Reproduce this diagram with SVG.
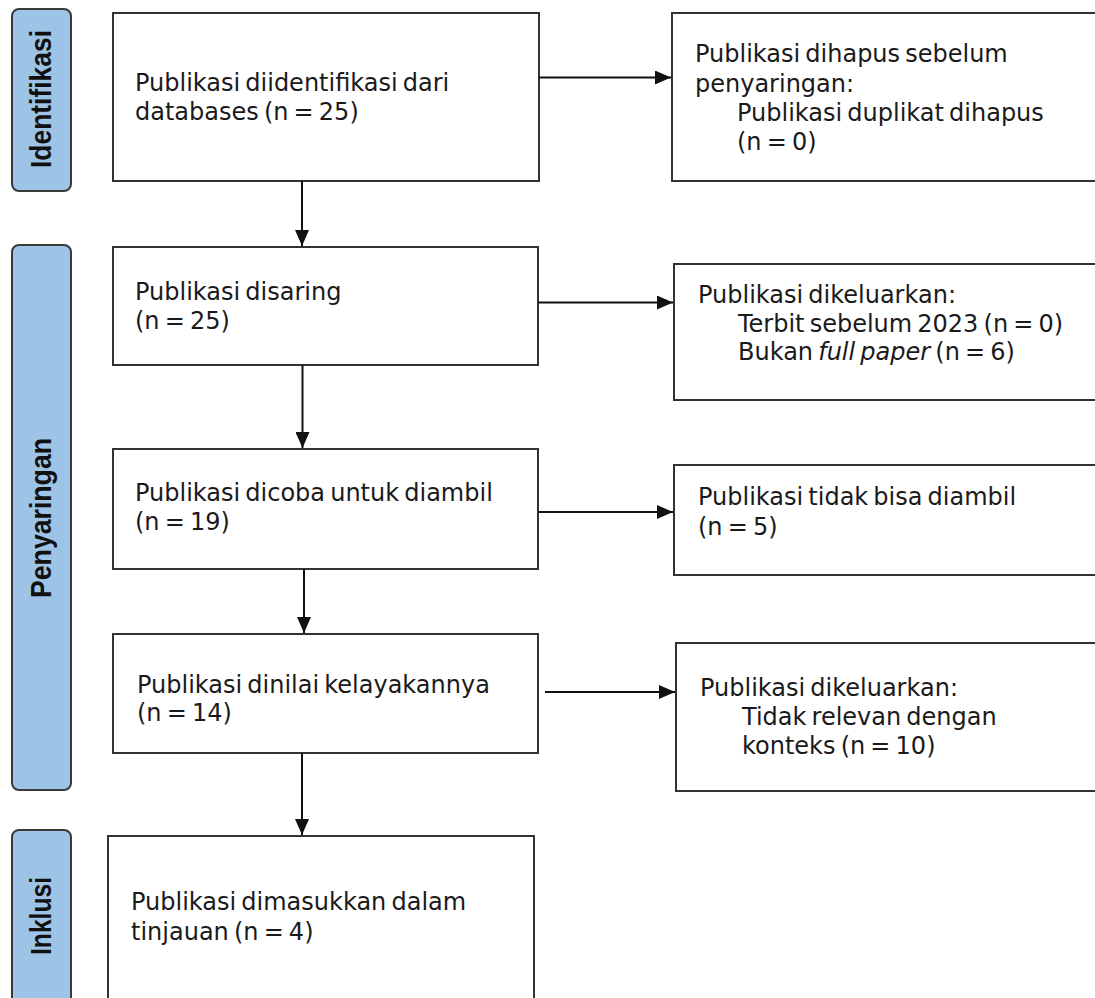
<svg xmlns="http://www.w3.org/2000/svg" width="1095" height="998" viewBox="0 0 1095 998">
<style>
.bar{fill:#9dc3e6;stroke:#3a3a3a;stroke-width:2}
.box{fill:#fff;stroke:#333;stroke-width:2}
.t{font-family:"DejaVu Sans",Verdana,sans-serif;font-size:24px;fill:#1a1a1a;word-spacing:-2.5px}
.lab{font-family:"Liberation Sans",Arial,sans-serif;font-weight:bold;font-size:29px;fill:#111}
.c{stroke:#111;stroke-width:2;fill:none;marker-end:url(#ah)}
</style>
<defs>
<marker id="ah" markerUnits="userSpaceOnUse" markerWidth="16" markerHeight="14" refX="16" refY="7" orient="auto">
<path d="M0,0 L16,7 L0,14 z" fill="#111"/>
</marker>
</defs>
<rect width="1095" height="998" fill="#fff"/>
<g id="bar-identifikasi">
<rect class="bar" x="12" y="9" width="59" height="182" rx="7"/>
<text class="lab" transform="translate(51,99) rotate(-90)" text-anchor="middle" textLength="138" lengthAdjust="spacingAndGlyphs">Identifikasi</text>
</g>
<g id="bar-penyaringan">
<rect class="bar" x="12" y="245" width="59" height="545" rx="7"/>
<text class="lab" transform="translate(51,518) rotate(-90)" text-anchor="middle" textLength="160" lengthAdjust="spacingAndGlyphs">Penyaringan</text>
</g>
<g id="bar-inklusi">
<rect class="bar" x="12" y="830" width="59" height="190" rx="7"/>
<text class="lab" transform="translate(51,916) rotate(-90)" text-anchor="middle" textLength="78" lengthAdjust="spacingAndGlyphs">Inklusi</text>
</g>
<g id="node-identified">
<rect class="box" x="113" y="13" width="426" height="168"/>
<text class="t" x="135" y="91">Publikasi diidentifikasi dari</text>
<text class="t" x="135" y="120">databases (n = 25)</text>
</g>
<g id="node-removed">
<rect class="box" x="672" y="13" width="440" height="168"/>
<text class="t" x="695" y="62">Publikasi dihapus sebelum</text>
<text class="t" x="695" y="91.5">penyaringan:</text>
<text class="t" x="737" y="121">Publikasi duplikat dihapus</text>
<text class="t" x="737" y="150">(n = 0)</text>
</g>
<g id="node-screened">
<rect class="box" x="113" y="247" width="425" height="118"/>
<text class="t" x="135" y="300">Publikasi disaring</text>
<text class="t" x="135" y="329">(n = 25)</text>
</g>
<g id="node-excluded1">
<rect class="box" x="674" y="264" width="440" height="136"/>
<text class="t" x="698" y="302.5">Publikasi dikeluarkan:</text>
<text class="t" x="738" y="331.5">Terbit sebelum 2023 (n = 0)</text>
<text class="t" x="738" y="360">Bukan <tspan font-style="italic">full paper</tspan> (n = 6)</text>
</g>
<g id="node-sought">
<rect class="box" x="113" y="449" width="425" height="120"/>
<text class="t" x="135" y="501">Publikasi dicoba untuk diambil</text>
<text class="t" x="135" y="530">(n = 19)</text>
</g>
<g id="node-notretrieved">
<rect class="box" x="674" y="465" width="440" height="110"/>
<text class="t" x="698" y="505">Publikasi tidak bisa diambil</text>
<text class="t" x="698" y="535">(n = 5)</text>
</g>
<g id="node-assessed">
<rect class="box" x="113" y="634" width="425" height="119"/>
<text class="t" x="137" y="693">Publikasi dinilai kelayakannya</text>
<text class="t" x="137" y="721">(n = 14)</text>
</g>
<g id="node-excluded2">
<rect class="box" x="676" y="643" width="440" height="148"/>
<text class="t" x="700" y="696">Publikasi dikeluarkan:</text>
<text class="t" x="742" y="725">Tidak relevan dengan</text>
<text class="t" x="742" y="754">konteks (n = 10)</text>
</g>
<g id="node-included">
<rect class="box" x="108" y="836" width="426" height="190"/>
<text class="t" x="131" y="910">Publikasi dimasukkan dalam</text>
<text class="t" x="131" y="940">tinjauan (n = 4)</text>
</g>
<g id="connectors">
<line class="c" x1="539" y1="77.5" x2="671" y2="77.5"/>
<line class="c" x1="302" y1="181" x2="302" y2="246"/>
<line class="c" x1="538" y1="302.5" x2="673" y2="302.5"/>
<line class="c" x1="302.5" y1="365" x2="302.5" y2="448"/>
<line class="c" x1="538" y1="512" x2="673" y2="512"/>
<line class="c" x1="304" y1="569" x2="304" y2="633"/>
<line class="c" x1="545" y1="692" x2="675" y2="692"/>
<line class="c" x1="302" y1="753" x2="302" y2="835"/>
</g>
</svg>
